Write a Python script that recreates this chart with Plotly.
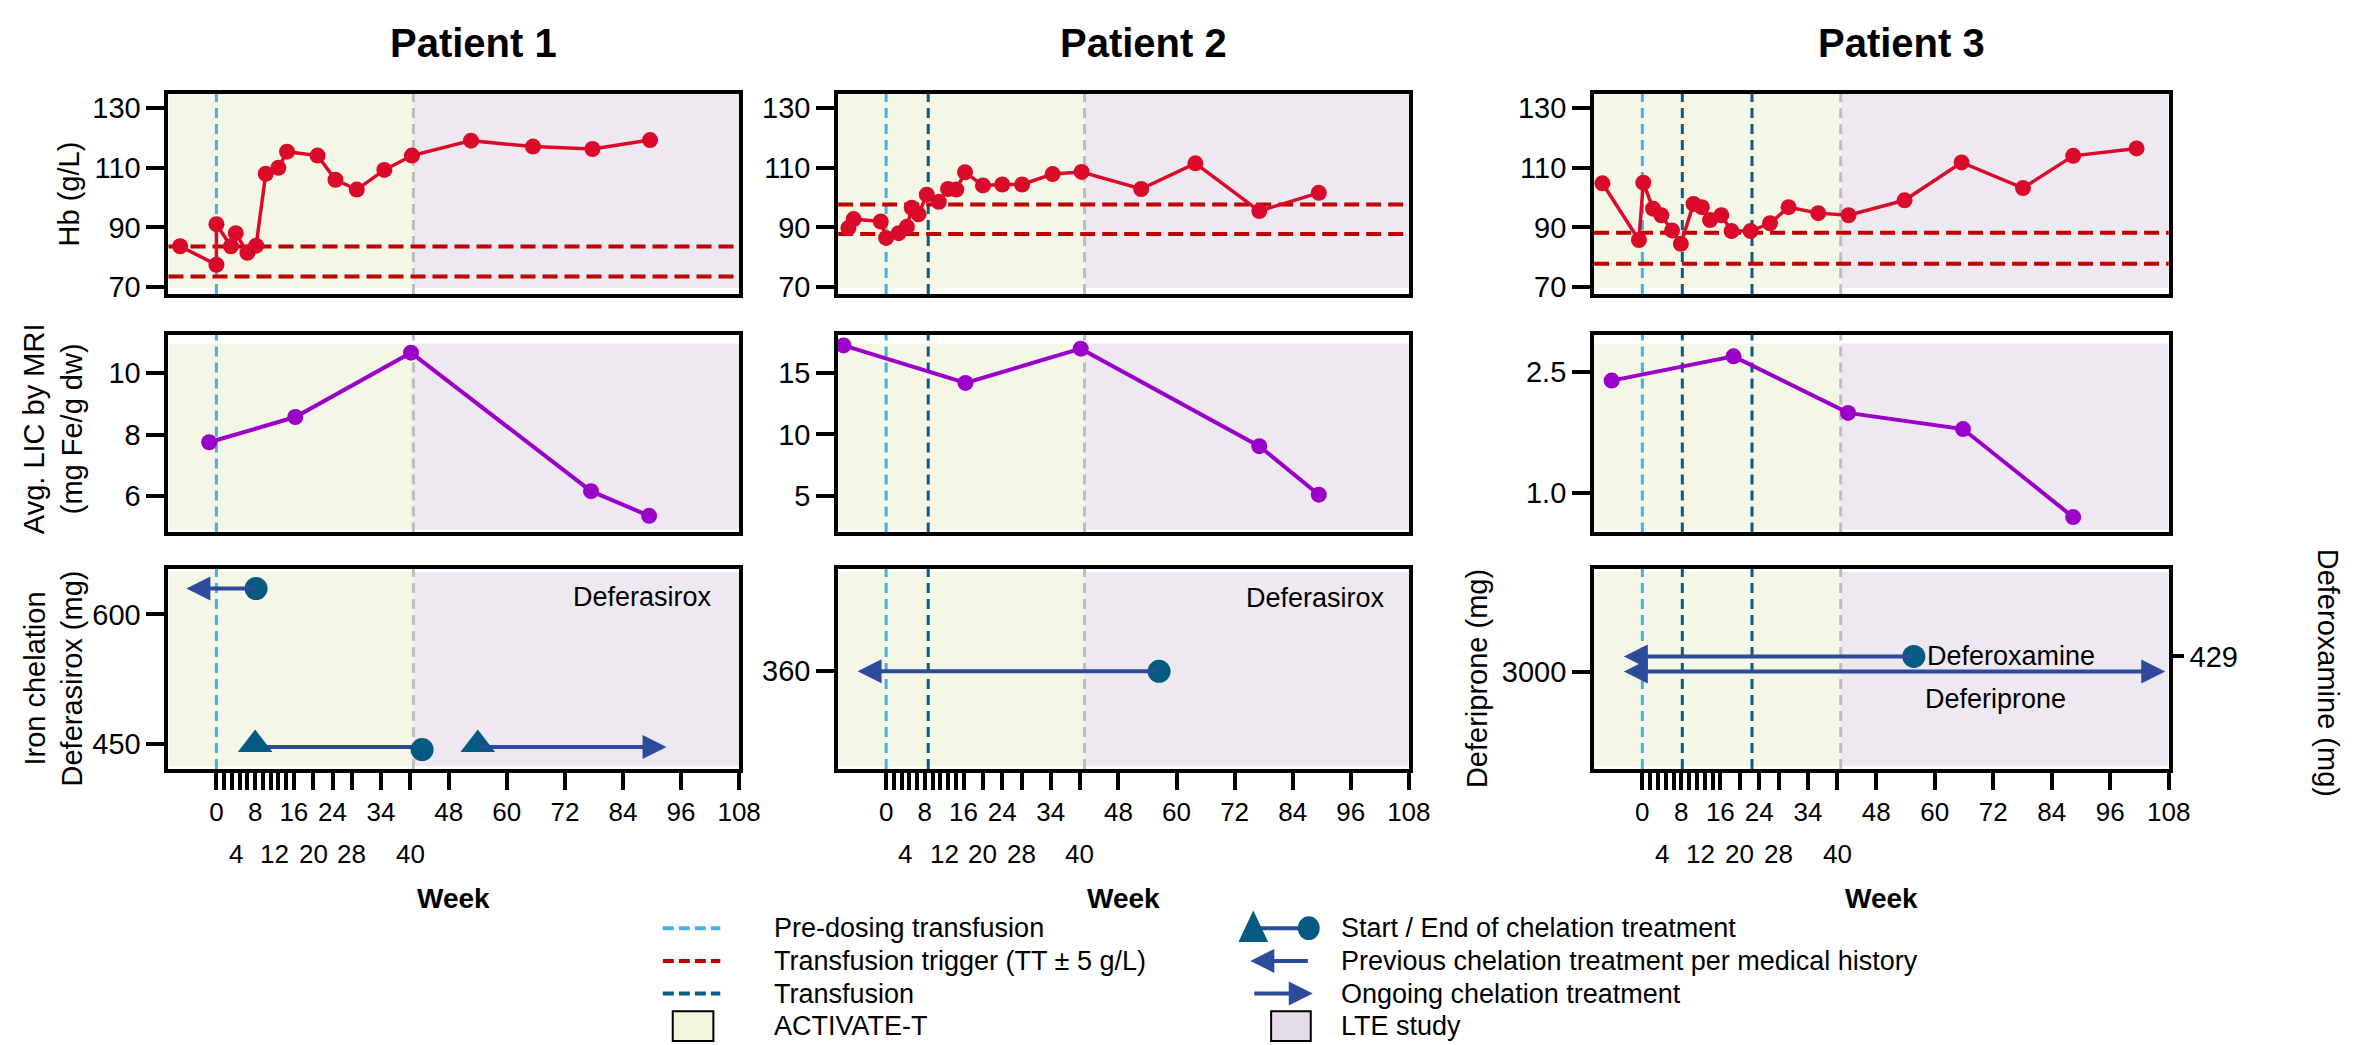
import plotly.graph_objects as go

W, H = 2364, 1045
FONT = "Liberation Sans, Arial, Helvetica, sans-serif"

# ---------------- data ----------------
PATIENTS = ["Patient 1", "Patient 2", "Patient 3"]

P1_HB_WEEK = [-7.5, 0, 0, 3, 4, 6.4, 8.2, 10.2, 12.8, 14.6, 20.9, 24.6, 29, 34.7, 40.4, 52.6, 65.4, 77.7, 89.6]
P1_HB = [83.7, 77.5, 91.1, 83.7, 88.1, 81.5, 83.9, 108, 110, 115.4, 114.1, 106, 102.7, 109.3, 114.1, 119.1, 117.1, 116.3, 119.3]
P2_HB_WEEK = [-7.8, -6.7, -1.1, 0, 2.6, 4.3, 5.3, 6.7, 8.4, 10.9, 12.8, 14.5, 16.3, 20, 24, 28.1, 34.4, 40.4, 52.7, 63.9, 77.1, 89.4]
P2_HB = [89.8, 92.8, 92, 86.5, 88.1, 90.2, 96.6, 94.4, 101, 98.6, 102.9, 102.7, 108.5, 104.1, 104.4, 104.4, 107.9, 108.6, 102.9, 111.5, 95.5, 101.6]
P3_HB_WEEK = [-8.2, -0.7, 0.2, 2.2, 3.9, 6.1, 7.9, 10.5, 12.2, 13.9, 16.2, 18.3, 22.2, 26.2, 30, 36.1, 42.3, 53.8, 65.5, 78.1, 88.4, 101.4]
P3_HB = [104.8, 85.8, 105, 96.3, 94.1, 89, 84.5, 97.9, 96.8, 92.5, 94.1, 88.8, 88.8, 91.4, 96.8, 94.8, 94.1, 99.1, 111.8, 103.2, 114, 116.5]

P1_LIC_WEEK = [-1.5, 16.3, 40.2, 77.4, 89.4]
P1_LIC = [7.75, 8.57, 10.66, 6.16, 5.36]
P2_LIC_WEEK = [-8.8, 16.4, 40.2, 77.1, 89.4]
P2_LIC = [17.26, 14.2, 17.0, 9.04, 5.08]
P3_LIC_WEEK = [-6.3, 18.7, 42.2, 65.8, 88.4]
P3_LIC = [2.39, 2.69, 1.99, 1.79, 0.70]

# transfusion trigger band (TT - 5, TT + 5)
TT_LOW = [73.6, 87.8, 77.8]
TT_HIGH = [83.6, 97.7, 88.2]
PREDOSE_WEEK = [0, 0, 0]
TRANSFUSION_WEEKS = [[], [8.7], [8.2, 22.5]]
LTE_START_WEEK = [40.7, 41.0, 40.7]

# chelation: previous (arrow tip week, end week, dose)
P1_PREV = [-6.2, 8.2, 630]
P1_TRT = [8.0, 42.5, 446]          # start, end, dose
P1_ONGOING = [54.0, 93.0, 446]     # start, arrow tip, dose
P2_PREV = [-5.9, 56.4, 360]
P3_DFO_PREV = [-3.8, 55.7, 429]    # deferoxamine (right axis)
P3_DFP = [-3.8, 107.6, 3000]       # deferiprone, ongoing both ways

# axis ticks
WEEK_TICKS = [0, 1.6, 3.2, 4.8, 6.4, 8, 9.6, 11.2, 12.8, 14.4, 16, 20, 24, 28, 34, 40, 48, 60, 72, 84, 96, 108]
WEEK_LABELS_ROW1 = [0, 8, 16, 24, 34, 48, 60, 72, 84, 96, 108]
WEEK_LABELS_ROW2 = [4, 12, 20, 28, 40]
HB_TICKS = [70, 90, 110, 130]
LIC_TICKS = [[6, 8, 10], [5, 10, 15], [1.0, 2.5]]
LIC_TICKTEXT = [["6", "8", "10"], ["5", "10", "15"], ["1.0", "2.5"]]
CHEL_TICKS = [[450, 600], [360], [3000]]
DFO_TICKS = [429]

# ---------------- styling / layout ----------------
RED = "#DA0A2B"
TTRED = "#C00000"
PURPLE = "#9A00C9"
LBLUE = "#41B1E1"
DBLUE = "#0B5A84"
GREY = "#BDBDBD"
ACT_FILL = "#F5F7E6"
LTE_FILL = "#EEE9F0"
ARROW = "#2D4B9B"
MARK = "#045A80"

XR = [-9.9, 108]
COL_X = [(162, 738), (838, 1414), (1601, 2181)]
ROW_Y = [(85, 287), (328, 528), (565, 767)]
HB_RANGE = [67.7, 134.7]
LIC_RANGE = [[4.82, 11.25], [2.0, 18.15], [0.51, 2.96]]
CHEL_RANGE = [[420.5, 652.6], [301.4, 421.4], [2026, 4026]]
DFO_RANGE = [316.4, 516.4]


def px(x):
    return x / W


def py(y):
    return 1 - y / H


def name(n, kind):
    return kind if n == 1 else f"{kind}{n}"


fig = go.Figure()
layout = dict(
    width=W, height=H, autosize=False,
    margin=dict(l=0, r=0, t=0, b=0),
    paper_bgcolor="white", plot_bgcolor="rgba(0,0,0,0)",
    font=dict(family=FONT, color="black", size=26),
    showlegend=False,
)
shapes = []
annotations = []

HB_W = [P1_HB_WEEK, P2_HB_WEEK, P3_HB_WEEK]
HB_V = [P1_HB, P2_HB, P3_HB]
LIC_W = [P1_LIC_WEEK, P2_LIC_WEEK, P3_LIC_WEEK]
LIC_V = [P1_LIC, P2_LIC, P3_LIC]

for r in range(3):
    for c in range(3):
        n = r * 3 + c + 1
        xa, ya = name(n, "xaxis"), name(n, "yaxis")
        xr, yr = name(n, "x"), name(n, "y")
        x0, x1 = COL_X[c]
        ytop, ybot = ROW_Y[r]
        xaxis = dict(
            domain=[px(x0), px(x1)], range=XR, anchor=yr,
            showline=True, linewidth=4, linecolor="black", mirror=True,
            showgrid=False, zeroline=False,
        )
        if r == 2:
            xaxis.update(
                tickmode="array", tickvals=WEEK_TICKS,
                ticktext=[str(v) if v in WEEK_LABELS_ROW1 else "" for v in WEEK_TICKS],
                ticks="outside", ticklen=17, tickwidth=4, tickcolor="black",
                tickfont=dict(size=26), tickangle=0,
            )
        else:
            xaxis.update(ticks="", showticklabels=False)
        yaxis = dict(
            domain=[py(ybot), py(ytop)], anchor=xr,
            showline=True, linewidth=4, linecolor="black", mirror=True,
            showgrid=False, zeroline=False,
            ticks="outside", ticklen=18, tickwidth=4, tickcolor="black",
            tickfont=dict(size=29), tickmode="array",
        )
        if r == 0:
            yaxis.update(range=HB_RANGE, tickvals=HB_TICKS)
        elif r == 1:
            yaxis.update(range=LIC_RANGE[c], tickvals=LIC_TICKS[c], ticktext=LIC_TICKTEXT[c])
        else:
            yaxis.update(range=CHEL_RANGE[c], tickvals=CHEL_TICKS[c])
        layout[xa] = xaxis
        layout[ya] = yaxis

        # background study periods
        band = [(0.03, 1.0), (0.015, 0.955), (0.015, 0.985)][r]
        shapes.append(dict(type="rect", xref=xr, yref=f"{yr} domain", x0=XR[0], x1=LTE_START_WEEK[c],
                           y0=band[0], y1=band[1], fillcolor=ACT_FILL, line=dict(width=0), layer="below"))
        shapes.append(dict(type="rect", xref=xr, yref=f"{yr} domain", x0=LTE_START_WEEK[c], x1=XR[1],
                           y0=band[0], y1=band[1], fillcolor=LTE_FILL, line=dict(width=0), layer="below"))
        # vertical reference lines
        shapes.append(dict(type="line", xref=xr, yref=f"{yr} domain", x0=LTE_START_WEEK[c], x1=LTE_START_WEEK[c],
                           y0=0, y1=1, line=dict(color=GREY, width=3, dash="10px,6px"), layer="below"))
        shapes.append(dict(type="line", xref=xr, yref=f"{yr} domain", x0=PREDOSE_WEEK[c], x1=PREDOSE_WEEK[c],
                           y0=0, y1=1, line=dict(color=LBLUE, width=3, dash="10px,6px"), layer="below"))
        for tw in TRANSFUSION_WEEKS[c]:
            shapes.append(dict(type="line", xref=xr, yref=f"{yr} domain", x0=tw, x1=tw,
                               y0=0, y1=1, line=dict(color=DBLUE, width=3, dash="10px,6px"), layer="below"))

        if r == 0:
            for v in (TT_LOW[c], TT_HIGH[c]):
                shapes.append(dict(type="line", xref=f"{xr} domain", yref=yr, x0=0, x1=1, y0=v, y1=v,
                                   line=dict(color=TTRED, width=4, dash="15px,7px"), layer="below"))
            fig.add_trace(go.Scatter(x=HB_W[c], y=HB_V[c], xaxis=xr, yaxis=yr, mode="lines+markers",
                                     line=dict(color=RED, width=3.5), marker=dict(color=RED, size=16),
                                     cliponaxis=False))
        elif r == 1:
            fig.add_trace(go.Scatter(x=LIC_W[c], y=LIC_V[c], xaxis=xr, yaxis=yr, mode="lines+markers",
                                     line=dict(color=PURPLE, width=4), marker=dict(color=PURPLE, size=16),
                                     cliponaxis=False))

        if r == 2:
            for v in WEEK_LABELS_ROW2:
                annotations.append(dict(x=v, y=py(853), xref=xr, yref="paper", text=str(v), showarrow=False,
                                        font=dict(size=26), xanchor="center", yanchor="middle"))
            annotations.append(dict(x=(x0 + x1) / 2 / W, y=py(898), xref="paper", yref="paper",
                                    text="<b>Week</b>", showarrow=False, font=dict(size=28),
                                    xanchor="center", yanchor="middle"))

# right axis for deferoxamine (patient 3)
layout["yaxis10"] = dict(domain=layout["yaxis9"]["domain"], range=DFO_RANGE, overlaying="y9", anchor="x9",
                         side="right", showline=False, showgrid=False, zeroline=False,
                         ticks="outside", ticklen=14, tickwidth=4, tickcolor="black",
                         tickmode="array", tickvals=DFO_TICKS, tickfont=dict(size=29))


def arrow(xref, yref, tip, tail, y, both=False):
    annotations.append(dict(x=tip, y=y, ax=tail, ay=y, xref=xref, yref=yref, axref=xref, ayref=yref,
                            text="", showarrow=True, arrowhead=2, arrowsize=1.2, arrowwidth=4,
                            arrowcolor=ARROW, arrowside="end+start" if both else "end"))


# Patient 1 chelation
arrow("x7", "y7", P1_PREV[0], P1_PREV[1], P1_PREV[2])
fig.add_trace(go.Scatter(x=[P1_TRT[0], P1_TRT[1]], y=[P1_TRT[2], P1_TRT[2]], xaxis="x7", yaxis="y7",
                         mode="lines", line=dict(color=ARROW, width=4)))
arrow("x7", "y7", P1_ONGOING[1], P1_ONGOING[0], P1_ONGOING[2])
fig.add_trace(go.Scatter(x=[P1_TRT[0], P1_ONGOING[0]], y=[P1_TRT[2] + 3, P1_ONGOING[2] + 3], xaxis="x7", yaxis="y7",
                         mode="markers", marker=dict(symbol="triangle-up", size=30, color=MARK)))
fig.add_trace(go.Scatter(x=[P1_PREV[1], P1_TRT[1]], y=[P1_PREV[2], P1_TRT[2] - 3], xaxis="x7", yaxis="y7",
                         mode="markers", marker=dict(symbol="circle", size=23, color=MARK)))
annotations.append(dict(x=88, y=0.86, xref="x7", yref="y7 domain", text="Deferasirox", showarrow=False,
                        font=dict(size=27), xanchor="center", yanchor="middle"))

# Patient 2 chelation
arrow("x8", "y8", P2_PREV[0], P2_PREV[1], P2_PREV[2])
fig.add_trace(go.Scatter(x=[P2_PREV[1]], y=[P2_PREV[2]], xaxis="x8", yaxis="y8",
                         mode="markers", marker=dict(symbol="circle", size=23, color=MARK)))
annotations.append(dict(x=88.7, y=0.856, xref="x8", yref="y8 domain", text="Deferasirox", showarrow=False,
                        font=dict(size=27), xanchor="center", yanchor="middle"))

# Patient 3 chelation
arrow("x9", "y10", P3_DFO_PREV[0], P3_DFO_PREV[1], P3_DFO_PREV[2])
arrow("x9", "y9", P3_DFP[0], P3_DFP[1], P3_DFP[2], both=True)
fig.add_trace(go.Scatter(x=[P3_DFO_PREV[1]], y=[P3_DFO_PREV[2]], xaxis="x9", yaxis="y10",
                         mode="markers", marker=dict(symbol="circle", size=23, color=MARK)))
annotations.append(dict(x=P3_DFO_PREV[1] + 2.3, y=P3_DFO_PREV[2], xref="x9", yref="y10", text="Deferoxamine",
                        showarrow=False, font=dict(size=27), xanchor="left", yanchor="middle"))
annotations.append(dict(x=72.4, y=0.35, xref="x9", yref="y9 domain", text="Deferiprone",
                        showarrow=False, font=dict(size=27), xanchor="center", yanchor="middle"))

# panel titles
for c, t in enumerate(PATIENTS):
    x0, x1 = COL_X[c]
    annotations.append(dict(x=px((x0 + x1) / 2 + 20), y=py(33), xref="paper", yref="paper", text=f"<b>{t}</b>",
                            showarrow=False, font=dict(size=40), xanchor="center", yanchor="middle"))

# y-axis titles
def ytitle(x, y, text, angle=-90, size=29):
    annotations.append(dict(x=px(x), y=py(y), xref="paper", yref="paper", text=text, textangle=angle,
                            showarrow=False, font=dict(size=size), xanchor="center", yanchor="middle"))

ytitle(62, 186, "Hb (g/L)")
ytitle(45, 423, "Avg. LIC by MRI<br>(mg Fe/g dw)")
ytitle(46, 676, "Iron chelation<br>Deferasirox (mg)")
ytitle(1483, 676, "Deferiprone (mg)")
ytitle(2342, 670, "Deferoxamine (mg)", angle=90)

# legend (drawn in paper coordinates)
LEG_ROWS = [928, 961, 994, 1027]
LEG_LEFT = [("Pre-dosing transfusion", LBLUE), ("Transfusion trigger (TT ± 5 g/L)", TTRED), ("Transfusion", DBLUE)]
for (txt, col), yy in zip(LEG_LEFT, LEG_ROWS):
    shapes.append(dict(type="line", xref="paper", yref="paper", x0=px(661), x1=px(719), y0=py(yy), y1=py(yy),
                       line=dict(color=col, width=4, dash="11px,5px")))
    annotations.append(dict(x=px(771), y=py(yy), xref="paper", yref="paper", text=txt, showarrow=False,
                            xanchor="left", yanchor="middle", font=dict(size=27)))
shapes.append(dict(type="rect", xref="paper", yref="paper", x0=px(671), x1=px(712), y0=py(1042), y1=py(1012),
                   fillcolor="#F2F5DC", line=dict(color="black", width=2)))
annotations.append(dict(x=px(771), y=py(1027), xref="paper", yref="paper", text="ACTIVATE-T", showarrow=False,
                        xanchor="left", yanchor="middle", font=dict(size=27)))

# right legend column
shapes.append(dict(type="line", xref="paper", yref="paper", x0=px(1257), x1=px(1313), y0=py(928), y1=py(928),
                   line=dict(color=ARROW, width=4)))
shapes.append(dict(type="path", xref="paper", yref="paper",
                   path=f"M {px(1242)},{py(942)} L {px(1272)},{py(942)} L {px(1257)},{py(910)} Z",
                   fillcolor=MARK, line=dict(width=0)))
shapes.append(dict(type="circle", xref="paper", yref="paper", x0=px(1302), x1=px(1324), y0=py(940), y1=py(916),
                   fillcolor=MARK, line=dict(width=0)))
annotations.append(dict(x=px(1254), y=py(961), ax=59, ay=0, xref="paper", yref="paper", text="", showarrow=True,
                        arrowhead=2, arrowsize=1.2, arrowwidth=4, arrowcolor=ARROW))
annotations.append(dict(x=px(1317), y=py(994), ax=-60, ay=0, xref="paper", yref="paper", text="", showarrow=True,
                        arrowhead=2, arrowsize=1.2, arrowwidth=4, arrowcolor=ARROW))
shapes.append(dict(type="rect", xref="paper", yref="paper", x0=px(1275), x1=px(1315), y0=py(1042), y1=py(1012),
                   fillcolor="#E4DCE8", line=dict(color="black", width=2)))
for txt, yy in zip(["Start / End of chelation treatment", "Previous chelation treatment per medical history",
                    "Ongoing chelation treatment", "LTE study"], LEG_ROWS):
    annotations.append(dict(x=px(1343), y=py(yy), xref="paper", yref="paper", text=txt, showarrow=False,
                            xanchor="left", yanchor="middle", font=dict(size=27)))

layout["shapes"] = shapes
layout["annotations"] = annotations
fig.update_layout(**layout)
fig.write_html("out.html")
